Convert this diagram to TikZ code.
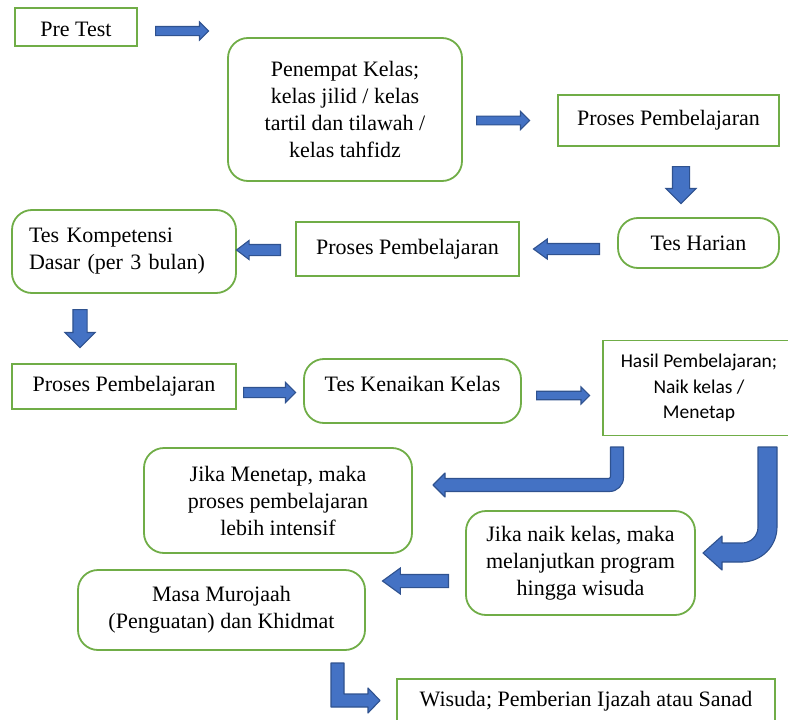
\documentclass[tikz,border=0pt]{standalone}
\usepackage{fontspec}
\setmainfont{Liberation Serif}
\newfontfamily\calibrifont{Carlito}
\usepackage{tikz}
\usetikzlibrary{shapes.arrows}
\definecolor{boxgreen}{HTML}{70AD47}
\definecolor{arrowblue}{HTML}{4472C4}
\definecolor{arrowedge}{HTML}{2F528F}
\tikzset{sqbox/.style = {shape=rectangle,draw=boxgreen,line width=1.8pt,align=center,inner sep=0pt,font=\fontsize{22}{27}\selectfont}}
\tikzset{rbox/.style = {sqbox,rounded corners=20pt}}
\tikzset{barrow/.style = {shape=single arrow,draw=arrowedge,fill=arrowblue,line width=1.1pt,inner xsep=0pt,minimum width=0pt,anchor=tail,single arrow head indent=0pt}}
\tikzset{bentarrow/.style = {draw=arrowedge,fill=arrowblue,line width=1.1pt,line join=round}}

\begin{document}
\begin{tikzpicture}[x=1pt,y=-1pt]
                    \clip (0,0) rectangle (788,720);

                    \node[sqbox,minimum width=122pt,minimum height=38pt,text height=19pt,text depth=0pt] (pre) at (76,27) {Pre Test};
                    \node[rbox,minimum width=234pt,minimum height=143pt] (place) at (345,109.5) {Penempat Kelas;\\kelas jilid / kelas\\tartil dan tilawah /\\kelas tahfidz};
                    \node[sqbox,minimum width=221pt,minimum height=51pt] (pb1) at (668.5,120.5) {Proses Pembelajaran};
                    \node[rbox,minimum width=161pt,minimum height=50pt] (harian) at (698.5,243) {Tes Harian};
                    \node[sqbox,minimum width=223pt,minimum height=54pt] (pb2) at (407.5,249) {Proses Pembelajaran};
                    \node[rbox,minimum width=224pt,minimum height=83pt,text width=190pt,align=left] (tkd) at (124,251.5) {Tes Kompetensi\\Dasar (per 3 bulan)};
                    \node[sqbox,minimum width=224pt,minimum height=45pt] (pb3) at (124,386.5) {Proses Pembelajaran};
                    \node[rbox,minimum width=217pt,minimum height=64pt,text depth=15pt] (naik) at (412.5,391) {Tes Kenaikan Kelas};
                    \node[sqbox,minimum width=192pt,minimum height=95pt,font=\calibrifont\fontsize{19.5}{25.5}\selectfont] (hasil) at (699,388) {Hasil Pembelajaran;\\Naik kelas /\\Menetap};
                    \node[rbox,minimum width=268pt,minimum height=105pt] (tetap) at (278,500.5) {Jika Menetap, maka\\proses pembelajaran\\lebih intensif};
                    \node[rbox,minimum width=229pt,minimum height=104pt] (lanjut) at (580.5,563) {Jika naik kelas, maka\\melanjutkan program\\hingga wisuda};
                    \node[rbox,minimum width=287pt,minimum height=80pt] (murojaah) at (221.5,610) {Masa Murojaah\\(Penguatan) dan Khidmat};
                    \node[sqbox,minimum width=378pt,minimum height=44pt] (wisuda) at (586,701) {Wisuda; Pemberian Ijazah atau Sanad};

                    \node[barrow,minimum height=53pt,inner ysep=4pt,single arrow head extend=4.5pt] (a1) at (155,31) {};
                    \node[barrow,minimum height=53pt,inner ysep=3.8pt,single arrow head extend=4.7pt] (a2) at (476,120.5) {};
                    \node[barrow,rotate=-90,minimum height=37pt,inner ysep=8pt,single arrow head extend=6.5pt] (a3) at (681,166) {};
                    \node[barrow,rotate=180,minimum height=66pt,inner ysep=5pt,single arrow head extend=4.5pt,single arrow tip angle=72] (a4) at (600,249) {};
                    \node[barrow,rotate=180,minimum height=44pt,inner ysep=5pt,single arrow head extend=4pt,single arrow tip angle=74] (a5) at (281,250) {};
                    \node[barrow,rotate=-90,minimum height=38pt,inner ysep=6.5pt,single arrow head extend=8pt] (a6) at (80,309) {};
                    \node[barrow,minimum height=52pt,inner ysep=4.5pt,single arrow head extend=5pt] (a7) at (243,392.5) {};
                    \node[barrow,minimum height=53pt,inner ysep=3.7pt,single arrow head extend=4.3pt] (a8) at (536,395.5) {};
                    \node[barrow,rotate=180,minimum height=66pt,inner ysep=6pt,single arrow head extend=6.5pt,single arrow tip angle=72] (a9) at (449,581) {};

                    \draw[bentarrow] (610.5,447) -- (623.5,447) [rounded corners=14pt] -- (623.5,491.5) [sharp corners] -- (445,491.5) -- (445,497) -- (433,485) -- (445,473) -- (445,478.5) [rounded corners=2pt] -- (610.5,478.5) [sharp corners] -- cycle;
                    \draw[bentarrow] (758,447) -- (777,447) [rounded corners=35pt] -- (777,562) [sharp corners] -- (722,562) -- (722,570) -- (703,553) -- (722,536) -- (722,543) [rounded corners=16pt] -- (758,543) [sharp corners] -- cycle;
                    \draw[bentarrow] (331,663) -- (344,663) -- (344,694) -- (368,694) -- (368,688) -- (380,700.5) -- (368,713) -- (368,707) -- (331,707) -- cycle;
\end{tikzpicture}
\end{document}
